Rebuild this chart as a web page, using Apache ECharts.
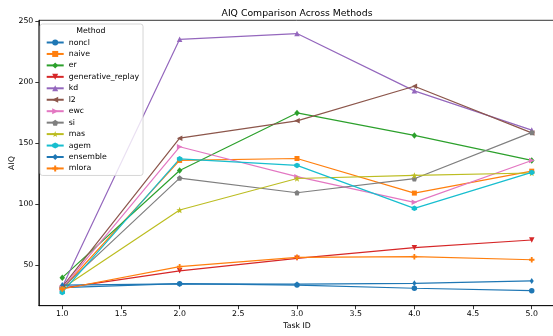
<!DOCTYPE html>
<html>
<head>
<meta charset="utf-8">
<script src="https://cdn.jsdelivr.net/npm/echarts@6/dist/echarts.min.js"></script>
<style>
  html, body { margin: 0; padding: 0; background: #fff; }
  #chart { width: 553px; height: 336px; }
</style>
</head>
<body>
<div id="chart"></div>
<script>
// Task IDs along the x axis
const taskIds = [1, 2, 3, 4, 5];

// AIQ per method, one value per task
const nonclValues = [31.5, 34.7, 33.5, 30.9, 28.9];
const naiveValues = [30.5, 135.8, 137.4, 109.0, 127.0];
const erValues = [39.6, 127.6, 174.8, 156.3, 135.8];
const generativeReplayValues = [31.0, 45.2, 55.5, 64.2, 70.5];
const kdValues = [32.0, 235.2, 239.9, 192.9, 160.7];
const l2Values = [32.0, 154.1, 168.3, 196.7, 158.4];
const ewcValues = [31.0, 147.0, 122.5, 101.4, 135.8];
const siValues = [31.0, 121.3, 109.3, 120.8, 158.8];
const masValues = [31.0, 95.1, 121.0, 123.5, 125.5];
const agemValues = [27.5, 137.1, 131.7, 96.5, 126.0];
const ensembleValues = [33.5, 34.5, 34.3, 35.0, 36.9];
const mloraValues = [30.3, 48.6, 56.3, 56.8, 54.3];

// Axis tick positions
const xTicks = [1.0, 1.5, 2.0, 2.5, 3.0, 3.5, 4.0, 4.5, 5.0];
const yTicks = [50, 100, 150, 200, 250];

const FONT = 'DejaVu Sans';

// Marker shapes
function polygonPath(n, rOuter, rInner, startDeg) {
  const pts = [];
  const count = rInner ? n * 2 : n;
  for (let i = 0; i < count; i++) {
    const r = rInner && i % 2 === 1 ? rInner : rOuter;
    const a = (startDeg + i * 360 / count) * Math.PI / 180;
    pts.push((r * Math.cos(a)).toFixed(3) + ',' + (r * Math.sin(a)).toFixed(3));
  }
  return 'path://M' + pts.join(' L') + ' Z';
}
const pentagon = polygonPath(5, 1, 0, -90);
const star = polygonPath(5, 1, 0.42, -90);
const hexagon = polygonPath(6, 1, 0, -90);
const plusFilled = 'path://M-0.33,-1 L0.33,-1 L0.33,-0.33 L1,-0.33 L1,0.33 L0.33,0.33 L0.33,1 L-0.33,1 L-0.33,0.33 L-1,0.33 L-1,-0.33 L-0.33,-0.33 Z';

const methods = [
  { name: 'noncl', data: nonclValues, color: '#1f77b4', symbol: 'circle', size: 5.5 },
  { name: 'naive', data: naiveValues, color: '#ff7f0e', symbol: 'rect', size: 5 },
  { name: 'er', data: erValues, color: '#2ca02c', symbol: 'diamond', size: [5.5, 6.5] },
  { name: 'generative_replay', data: generativeReplayValues, color: '#d62728', symbol: 'triangle', size: 5.5, rotate: 180 },
  { name: 'kd', data: kdValues, color: '#9467bd', symbol: 'triangle', size: 5.5 },
  { name: 'l2', data: l2Values, color: '#8c564b', symbol: 'triangle', size: 5.5, rotate: 90 },
  { name: 'ewc', data: ewcValues, color: '#e377c2', symbol: 'triangle', size: 5.5, rotate: -90 },
  { name: 'si', data: siValues, color: '#7f7f7f', symbol: pentagon, size: 5.5 },
  { name: 'mas', data: masValues, color: '#bcbd22', symbol: star, size: 6.5 },
  { name: 'agem', data: agemValues, color: '#17becf', symbol: hexagon, size: 5.5 },
  { name: 'ensemble', data: ensembleValues, color: '#1f77b4', symbol: 'diamond', size: [4, 6] },
  { name: 'mlora', data: mloraValues, color: '#ff7f0e', symbol: plusFilled, size: 5.5 }
];

const series = methods.map(m => ({
  name: m.name,
  type: 'line',
  data: taskIds.map((t, i) => [t, m.data[i]]),
  symbol: m.symbol,
  symbolSize: m.size,
  symbolRotate: m.rotate || 0,
  showAllSymbol: true,
  lineStyle: { color: m.color, width: 1.2 },
  itemStyle: { color: m.color, borderWidth: 0 },
  emphasis: { disabled: true }
}));

const chart = echarts.init(document.getElementById('chart'), null, { renderer: 'canvas' });
chart.setOption({
  animation: false,
  backgroundColor: '#fff',
  textStyle: { fontFamily: FONT },
  grid: {
    left: 38.8, top: 20.3, right: -2.2, bottom: 30.3,
    outerBoundsMode: 'none',
    containLabel: false,
    show: true, borderColor: '#000', borderWidth: 0.8, backgroundColor: 'transparent'
  },
  xAxis: {
    type: 'value',
    min: 0.8, max: 5.2,
    axisLine: { show: true, lineStyle: { color: '#000', width: 0.8 } },
    axisTick: { show: true, length: 3.5, lineStyle: { color: '#000', width: 0.8 }, customValues: xTicks },
    axisLabel: {
      show: true, customValues: xTicks, margin: 4.5,
      fontFamily: FONT, fontSize: 7.8, color: '#000',
      formatter: v => v.toFixed(1)
    },
    splitLine: { show: false }
  },
  yAxis: {
    type: 'value',
    min: 16.6, max: 250.8,
    axisLine: { show: true, lineStyle: { color: '#000', width: 0.8 } },
    axisTick: { show: true, length: 3.5, lineStyle: { color: '#000', width: 0.8 }, customValues: yTicks },
    axisLabel: {
      show: true, customValues: yTicks, margin: 5.5,
      fontFamily: FONT, fontSize: 7.8, color: '#000'
    },
    splitLine: { show: false }
  },
  legend: {
    orient: 'vertical',
    left: 40, top: 24,
    padding: [14.5, 4, 3, 5.7],
    itemWidth: 17, itemHeight: 7.5, itemGap: 3.45,
    backgroundColor: 'rgba(255,255,255,0.8)',
    borderColor: '#cccccc', borderWidth: 0.8, borderRadius: 2.5,
    textStyle: { fontFamily: FONT, fontSize: 7.8, color: '#000', lineHeight: 7.5 },
    selectedMode: false,
    data: methods.map(m => m.name)
  },
  graphic: [
    {
      type: 'text', x: 297, y: 13.5, z: 10,
      style: { text: 'AIQ Comparison Across Methods', fontFamily: FONT, fontSize: 9.3, fill: '#000', align: 'center', verticalAlign: 'middle' }
    },
    {
      type: 'text', x: 297, y: 325.5, z: 10,
      style: { text: 'Task ID', fontFamily: FONT, fontSize: 7.8, fill: '#000', align: 'center', verticalAlign: 'middle' }
    },
    {
      type: 'text', x: 12, y: 163, rotation: Math.PI / 2, z: 10,
      style: { text: 'AIQ', fontFamily: FONT, fontSize: 7.8, fill: '#000', align: 'center', verticalAlign: 'middle' }
    },
    {
      type: 'text', x: 90.9, y: 30.7, z: 10,
      style: { text: 'Method', fontFamily: FONT, fontSize: 7.8, fill: '#000', align: 'center', verticalAlign: 'middle' }
    }
  ],
  series: series
});
</script>
</body>
</html>
